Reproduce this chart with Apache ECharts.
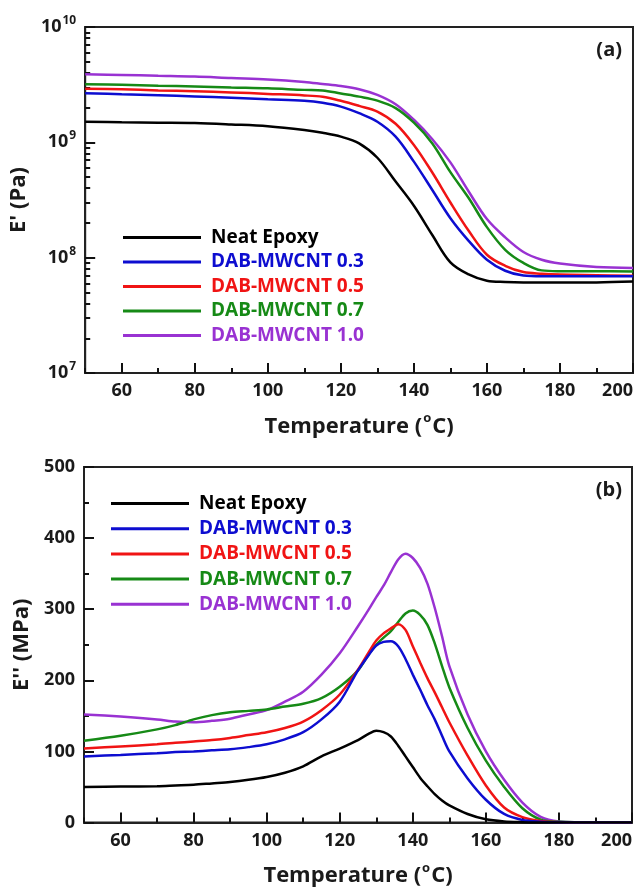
<!DOCTYPE html>
<html><head><meta charset="utf-8">
<script src="https://cdn.jsdelivr.net/npm/echarts@6/dist/echarts.min.js"></script>
<style>html,body{margin:0;padding:0;background:#fff}#c{width:638px;height:888px}</style>
</head><body><div id="c"></div>
<script>
// ---------- data ----------
const seriesNames = ['Neat Epoxy', 'DAB-MWCNT 0.3', 'DAB-MWCNT 0.5', 'DAB-MWCNT 0.7', 'DAB-MWCNT 1.0'];
const seriesColors = ['#000000', '#0d0dd0', '#f01414', '#168a16', '#9932d2'];

// (a) storage modulus E' (Pa)
const tempStorage = [50, 60, 70, 80, 90, 100, 110, 115, 120, 125, 130, 135, 140, 145, 150, 155, 160, 165, 170, 175, 180, 190, 200];
const storageNeat = [1.51e9, 1.49e9, 1.48e9, 1.47e9, 1.43e9, 1.38e9, 1.28e9, 1.21e9, 1.12e9, 9.8e8, 7.35e8, 4.57e8, 2.82e8, 1.58e8, 9.1e7, 7.15e7, 6.3e7, 6.15e7, 6.1e7, 6.1e7, 6.1e7, 6.1e7, 6.2e7];
const storage03 = [2.67e9, 2.61e9, 2.56e9, 2.50e9, 2.44e9, 2.36e9, 2.29e9, 2.20e9, 2.04e9, 1.79e9, 1.51e9, 1.12e9, 6.8e8, 3.88e8, 2.2e8, 1.4e8, 9.6e7, 7.7e7, 7.0e7, 6.9e7, 6.9e7, 6.9e7, 6.9e7];
const storage05 = [2.92e9, 2.88e9, 2.82e9, 2.77e9, 2.71e9, 2.63e9, 2.55e9, 2.48e9, 2.29e9, 2.07e9, 1.85e9, 1.45e9, 9.5e8, 5.5e8, 3.01e8, 1.71e8, 1.06e8, 8.5e7, 7.5e7, 7.26e7, 7.13e7, 7.05e7, 6.98e7];
const storage07 = [3.19e9, 3.15e9, 3.10e9, 3.05e9, 2.99e9, 2.94e9, 2.85e9, 2.82e9, 2.65e9, 2.49e9, 2.30e9, 1.98e9, 1.48e9, 9.84e8, 5.52e8, 3.29e8, 1.84e8, 1.17e8, 9.0e7, 7.76e7, 7.64e7, 7.62e7, 7.6e7];
const storage10 = [3.89e9, 3.84e9, 3.78e9, 3.72e9, 3.61e9, 3.51e9, 3.34e9, 3.21e9, 3.08e9, 2.89e9, 2.58e9, 2.14e9, 1.57e9, 1.07e9, 6.7e8, 3.75e8, 2.16e8, 1.5e8, 1.12e8, 9.6e7, 8.9e7, 8.3e7, 8.15e7];

// (b) loss modulus E'' (MPa)
const tempLoss = [50, 60, 70, 75, 80, 85, 90, 95, 100, 105, 110, 115, 120, 125, 128, 130, 132, 134, 136, 138, 140, 142, 144, 146, 148, 150, 155, 160, 165, 170, 175, 180, 190, 200];
const lossNeat = [50, 50.5, 51, 52, 53, 55, 57, 60, 64, 70, 79, 93, 104, 116, 125, 129, 127, 121, 108, 93, 78, 63, 51, 40, 31, 24, 12, 4.5, 1.5, 0.5, 0, 0, 0, 0];
const loss03 = [93, 95, 97.5, 99, 100, 101.5, 103, 106, 110, 117, 127, 145, 170, 214, 236, 249, 254, 255, 248, 230, 208, 187, 165, 145, 122, 100, 62, 32, 12, 3.5, 1, 0, 0, 0];
const loss05 = [104, 107, 110, 112, 114, 116, 119, 123, 127, 133, 142, 158, 180, 215, 240, 256, 266, 273, 279, 271, 248, 225, 203, 183, 162, 141, 94, 52, 21, 7.5, 2, 0.5, 0, 0];
const loss07 = [115, 122, 131, 137, 145, 151, 155, 157, 159, 163, 167, 175, 191, 214, 237, 250, 260, 269, 282, 294, 298, 292, 278, 252, 220, 190, 133, 87, 50, 20, 4, 1, 0, 0];
const loss10 = [152, 149, 145, 142, 141, 143, 146, 152, 158, 170, 184, 208, 238, 276, 300, 317, 333, 352, 370, 378, 372, 358, 336, 302, 262, 220, 152, 100, 60, 28, 8, 1.5, 0, 0];

// ticks
const xTickLabels = [60, 80, 100, 120, 140, 160, 180, 200];
const yLogExponents = [7, 8, 9, 10];
const yLogMinorMantissas = [2, 3, 4, 5, 6, 7, 8, 9];
const yLossTickLabels = [0, 100, 200, 300, 400, 500];

const storageData = [storageNeat, storage03, storage05, storage07, storage10];
const lossData = [lossNeat, loss03, loss05, loss07, loss10];

// ---------- chart ----------
const FONT = '"Open Sans", "DejaVu Sans", sans-serif';
const INK = '#1a1a1a';
const TICK = { color: '#111', width: 2 };
const lineAxis = { lineStyle: { color: '#222', width: 2 } };

// positions of the log minor ticks, in decades (overlay tick-only axis)
const minorLogTicks = [];
for (let e = 7; e < 10; e++) yLogMinorMantissas.forEach(m => minorLogTicks.push(e + Math.log10(m)));

function xMain(grid) {
  return {
    type: 'value', gridIndex: grid, position: 'bottom', min: 50, max: 200, interval: 10,
    axisLine: lineAxis,
    axisTick: { show: true, inside: true, length: 5, lineStyle: TICK },
    axisLabel: {
      formatter: v => (xTickLabels.indexOf(v) >= 0 ? String(v) : ''),
      fontSize: 18, fontWeight: 'bold', fontFamily: FONT, color: INK, margin: 9,
      alignMaxLabel: 'right'
    },
    splitLine: { show: false },
    name: 'Temperature ({s|o}C)', nameLocation: 'middle', nameGap: 39,
    nameTextStyle: {
      fontSize: 22, fontWeight: 'bold', fontFamily: FONT, color: INK,
      rich: { s: { fontSize: 13, fontWeight: 'bold', fontFamily: FONT, color: INK, padding: [0, 1, 16, 1] } }
    }
  };
}
function xMajor(grid) {
  return {
    type: 'value', gridIndex: grid, position: 'bottom', min: 50, max: 200,
    axisLine: { show: false },
    axisTick: { show: true, inside: true, length: 10, customValues: xTickLabels, lineStyle: TICK },
    axisLabel: { show: false, customValues: xTickLabels },
    splitLine: { show: false }
  };
}

const series = [];
seriesNames.forEach((n, i) => {
  series.push({
    name: n, type: 'line', xAxisIndex: 0, yAxisIndex: 0,
    data: tempStorage.map((t, k) => [t, storageData[i][k]]),
    showSymbol: false, smooth: 0.35, color: seriesColors[i],
    lineStyle: { width: 2.5, color: seriesColors[i] }, z: 10 - i
  });
});
seriesNames.forEach((n, i) => {
  series.push({
    name: n, type: 'line', xAxisIndex: 2, yAxisIndex: 3,
    data: tempLoss.map((t, k) => [t, lossData[i][k]]),
    showSymbol: false, smooth: 0.3, color: seriesColors[i],
    lineStyle: { width: 2.5, color: seriesColors[i] }, z: 10 - i
  });
});

function legend(left, top, gap) {
  return {
    orient: 'vertical', left: left, top: top, icon: 'rect',
    itemWidth: 78, itemHeight: 3, itemGap: gap, selectedMode: false,
    textStyle: { fontSize: 19, fontWeight: 'bold', fontFamily: FONT, padding: [0, 0, 0, 5] },
    data: seriesNames.map((n, i) => ({ name: n, textStyle: { color: seriesColors[i] } }))
  };
}

const chart = echarts.init(document.getElementById('c'), null, { renderer: 'canvas' });
chart.setOption({
  backgroundColor: '#fff',
  animation: false,
  grid: [
    { left: 84, top: 27, width: 549, height: 346, show: true, borderColor: '#222', borderWidth: 2, containLabel: false },
    { left: 84, top: 467, width: 548, height: 356, show: true, borderColor: '#222', borderWidth: 2, containLabel: false }
  ],
  xAxis: [xMain(0), xMajor(0), xMain(1), xMajor(1)],
  yAxis: [
    {
      type: 'log', logBase: 10, gridIndex: 0, position: 'left', min: 1e7, max: 1e10,
      axisLine: lineAxis,
      axisTick: { show: true, inside: true, length: 10, lineStyle: TICK },
      axisLabel: {
        formatter: v => '{b|10}{s|' + Math.round(Math.log10(v)) + '}',
        margin: 9,
        rich: {
          b: { fontSize: 18, fontWeight: 'bold', fontFamily: FONT, color: INK },
          s: { fontSize: 12, fontWeight: 'bold', fontFamily: FONT, color: INK, padding: [0, 0, 13, 1] }
        }
      },
      splitLine: { show: false },
      name: "E' (Pa)", nameLocation: 'middle', nameGap: 50,
      nameTextStyle: { fontSize: 22, fontWeight: 'bold', fontFamily: FONT, color: INK }
    },
    {
      type: 'value', gridIndex: 0, position: 'left', min: yLogExponents[0], max: yLogExponents[yLogExponents.length - 1],
      axisLine: { show: false },
      axisTick: { show: true, inside: true, length: 5, customValues: minorLogTicks, lineStyle: TICK },
      axisLabel: { show: false, customValues: minorLogTicks },
      splitLine: { show: false }
    },
    {
      // placeholder to keep indices clear (not used)
      type: 'value', gridIndex: 1, position: 'left', min: 0, max: 500, show: false
    },
    {
      type: 'value', gridIndex: 1, position: 'left', min: 0, max: 500, interval: 100,
      axisLine: lineAxis,
      axisTick: { show: true, inside: true, length: 10, lineStyle: TICK },
      minorTick: { show: true, splitNumber: 2, length: 5, lineStyle: TICK },
      axisLabel: {
        customValues: yLossTickLabels,
        fontSize: 18, fontWeight: 'bold', fontFamily: FONT, color: INK, margin: 9
      },
      splitLine: { show: false }, minorSplitLine: { show: false },
      name: "E'' (MPa)", nameLocation: 'middle', nameGap: 50,
      nameTextStyle: { fontSize: 22, fontWeight: 'bold', fontFamily: FONT, color: INK }
    }
  ],
  legend: [legend(118, 223, 5.5), legend(106, 489, 6.2)],
  graphic: [
    { type: 'text', right: 16, top: 40, style: { text: '(a)', font: 'bold 20px ' + FONT, fill: INK } },
    { type: 'text', right: 16, top: 480, style: { text: '(b)', font: 'bold 20px ' + FONT, fill: INK } }
  ],
  series: series
});
</script>
</body></html>
